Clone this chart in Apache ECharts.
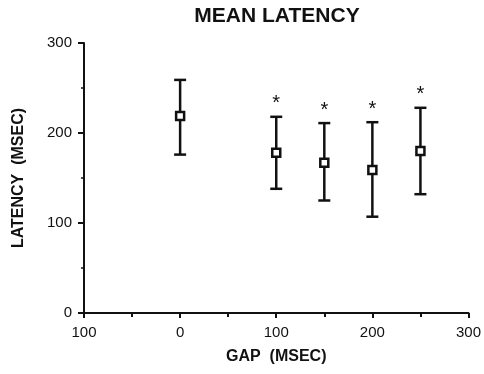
<!DOCTYPE html>
<html><head><meta charset="utf-8">
<script src="https://cdn.jsdelivr.net/npm/echarts@6/dist/echarts.min.js"></script>
<style>html,body{margin:0;padding:0;background:#fff}#c{width:484px;height:374px}</style>
</head><body><div id="c"></div>
<script>
var gaps = [0, 100, 150, 200, 250];
var means = [219, 178, 167, 159, 180];
var upper = [259, 218, 211, 212, 228];
var lower = [176, 138, 125, 107, 132];
var significant = [false, true, true, true, true];
var xTickLabels = {'-100':'100','0':'0','100':'100','200':'200','300':'300'};

var data = gaps.map(function(g,i){return [g, means[i], lower[i], upper[i], significant[i]?1:0];});
var font = 'Liberation Sans, Arial, sans-serif';
var chart = echarts.init(document.getElementById('c'));
chart.setOption({
  animation:false,
  title:{text:'MEAN LATENCY', left:272, textAlign:'center', top:1,
    textStyle:{fontFamily:font, fontWeight:'bold', fontSize:21, color:'#111'}},
  grid:{left:84, right:12, top:43, bottom:61},
  xAxis:{type:'value', min:-100, max:300, interval:100,
    name:'GAP  (MSEC)', nameLocation:'middle', nameGap:36,
    nameTextStyle:{fontFamily:font, fontWeight:'bold', fontSize:16, color:'#111'},
    axisLine:{onZero:false, lineStyle:{color:'#111', width:2}},
    axisTick:{show:true, length:5, lineStyle:{color:'#111', width:2}},
    minorTick:{show:true, splitNumber:2, length:4, lineStyle:{color:'#111', width:2}},
    splitLine:{show:false},
    axisLabel:{fontFamily:font, fontSize:15, color:'#111', margin:12,
      formatter:function(v){return xTickLabels[String(v)];}}
  },
  yAxis:{type:'value', min:0, max:300, interval:100,
    name:'LATENCY  (MSEC)', nameLocation:'middle', nameGap:57,
    nameTextStyle:{fontFamily:font, fontWeight:'bold', fontSize:16, color:'#111'},
    axisLine:{onZero:false, lineStyle:{color:'#111', width:2}},
    axisTick:{show:true, length:6, lineStyle:{color:'#111', width:2}},
    minorTick:{show:true, splitNumber:2, length:3, lineStyle:{color:'#111', width:1.5}},
    splitLine:{show:false},
    axisLabel:{fontFamily:font, fontSize:15, color:'#111', margin:12}
  },
  series:[{
    type:'custom',
    data:data,
    renderItem:function(params, api){
      var x = api.value(0);
      var m = api.coord([x, api.value(1)]);
      var lo = api.coord([x, api.value(2)]);
      var hi = api.coord([x, api.value(3)]);
      var cap = 6;
      var st = {stroke:'#111', lineWidth:2.5};
      var ch = [
        {type:'line', shape:{x1:hi[0], y1:hi[1], x2:lo[0], y2:lo[1]}, style:st},
        {type:'line', shape:{x1:hi[0]-cap, y1:hi[1], x2:hi[0]+cap, y2:hi[1]}, style:st},
        {type:'line', shape:{x1:lo[0]-cap, y1:lo[1], x2:lo[0]+cap, y2:lo[1]}, style:st},
        {type:'rect', shape:{x:m[0]-4, y:m[1]-4, width:8, height:8}, style:{fill:'#fff', stroke:'#111', lineWidth:2.5}}
      ];
      if (api.value(4)) {
        ch.push({type:'text', style:{text:'*', x:hi[0], y:hi[1]-3, align:'center', verticalAlign:'bottom',
          font:'20px Liberation Sans, Arial, sans-serif', fill:'#111'}});
      }
      return {type:'group', children:ch};
    }
  }]
});
</script></body></html>
